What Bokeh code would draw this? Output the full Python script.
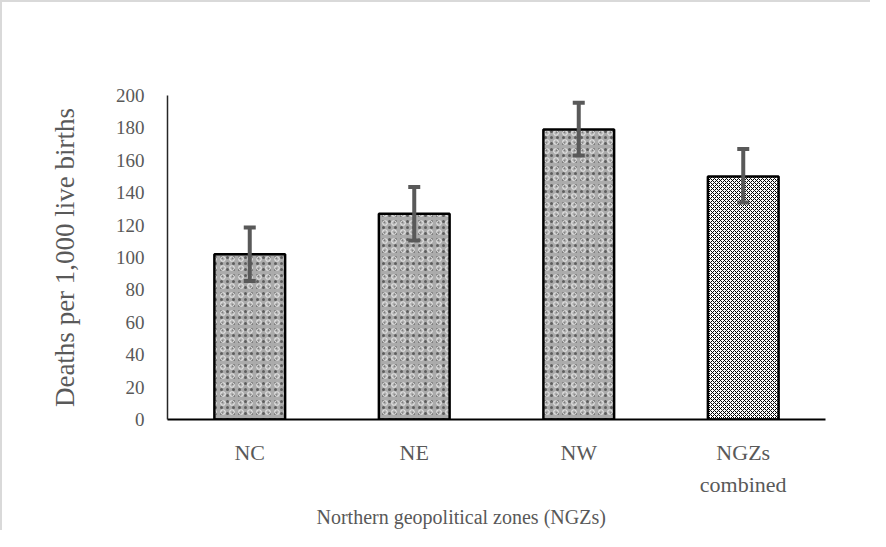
from bokeh.plotting import figure
from bokeh.models import (FactorRange, Range1d, Whisker, TeeHead, ColumnDataSource,
                          Title, FixedTicker)
from bokeh.embed import file_html
from bokeh.resources import INLINE

# ---- data ----
zones = ["NC", "NE", "NW", "NGZs\ncombined"]
rates = [102, 127, 179, 150]
upper = [118.5, 143.5, 195.5, 167]
lower = [85.5, 110.5, 163, 134]
y_ticks = [0, 20, 40, 60, 80, 100, 120, 140, 160, 180, 200]

FONT = "Liberation Serif"

p = figure(x_range=FactorRange(*zones), y_range=Range1d(0, 200),
           width=870, height=530, output_backend="svg", toolbar_location=None,
           min_border_left=165, min_border_right=47, min_border_top=93,
           min_border_bottom=113,
           styles={"border-left": "2px solid #d9d9d9",
                   "border-top": "2px solid #d9d9d9"})
p.outline_line_color = None
p.xgrid.grid_line_color = None
p.ygrid.grid_line_color = None
p.background_fill_color = "white"

src_a = ColumnDataSource(dict(x=zones[:3], top=rates[:3]))
src_b = ColumnDataSource(dict(x=zones[3:], top=rates[3:]))

# granite-like speckle for first three bars
p.vbar(x="x", top="top", width=0.43, source=src_a, fill_color="#ababab",
       line_color=None, hatch_pattern=".", hatch_color="#5e5e5e",
       hatch_scale=6, hatch_weight=1.5)
p.vbar(x="x", top="top", width=0.43, source=src_a, fill_color=None,
       line_color="black", line_width=2.5, hatch_pattern="o",
       hatch_color="#e0e0e0", hatch_scale=9, hatch_weight=1.2)

# checkered bar
p.vbar(x="x", top="top", width=0.43, source=src_b, fill_color="white",
       line_color="black", line_width=2.5, hatch_pattern="x",
       hatch_color="black", hatch_scale=4, hatch_weight=1.0)

# error bars
err = ColumnDataSource(dict(x=zones, upper=upper, lower=lower))
w = Whisker(base="x", upper="upper", lower="lower", source=err,
            line_color="#595959", line_width=4, level="overlay",
            upper_head=TeeHead(size=12, line_color="#595959", line_width=4),
            lower_head=TeeHead(size=12, line_color="#595959", line_width=4))
p.add_layout(w)

# y axis
p.yaxis.ticker = FixedTicker(ticks=y_ticks)
p.yaxis.major_tick_line_color = None
p.yaxis.minor_tick_line_color = None
p.yaxis.axis_line_color = "#262626"
p.yaxis.axis_line_width = 1.5
p.yaxis.major_label_standoff = 17
p.yaxis.major_label_text_font = FONT
p.yaxis.major_label_text_font_size = "19px"
p.yaxis.major_label_text_color = "#595959"
p.yaxis.axis_label = "Deaths per 1,000 live births"
p.yaxis.axis_label_text_font = FONT
p.yaxis.axis_label_text_font_size = "27px"
p.yaxis.axis_label_text_font_style = "normal"
p.yaxis.axis_label_text_color = "#595959"
p.yaxis.axis_label_standoff = 33

# x axis
p.xaxis.major_tick_line_color = None
p.xaxis.minor_tick_line_color = None
p.xaxis.axis_line_color = "black"
p.xaxis.axis_line_width = 2
p.xaxis.major_label_standoff = 14
p.xaxis.major_label_text_font = FONT
p.xaxis.major_label_text_font_size = "22px"
p.xaxis.major_label_text_color = "#595959"
p.xaxis.major_label_text_line_height = 1.3

p.add_layout(Title(text="Northern geopolitical zones (NGZs)", align="left",
                   offset=149, standoff=6, text_font=FONT,
                   text_font_size="20px", text_font_style="normal",
                   text_color="#595959"), "below")

open("out.html", "w").write(file_html(p, INLINE))
